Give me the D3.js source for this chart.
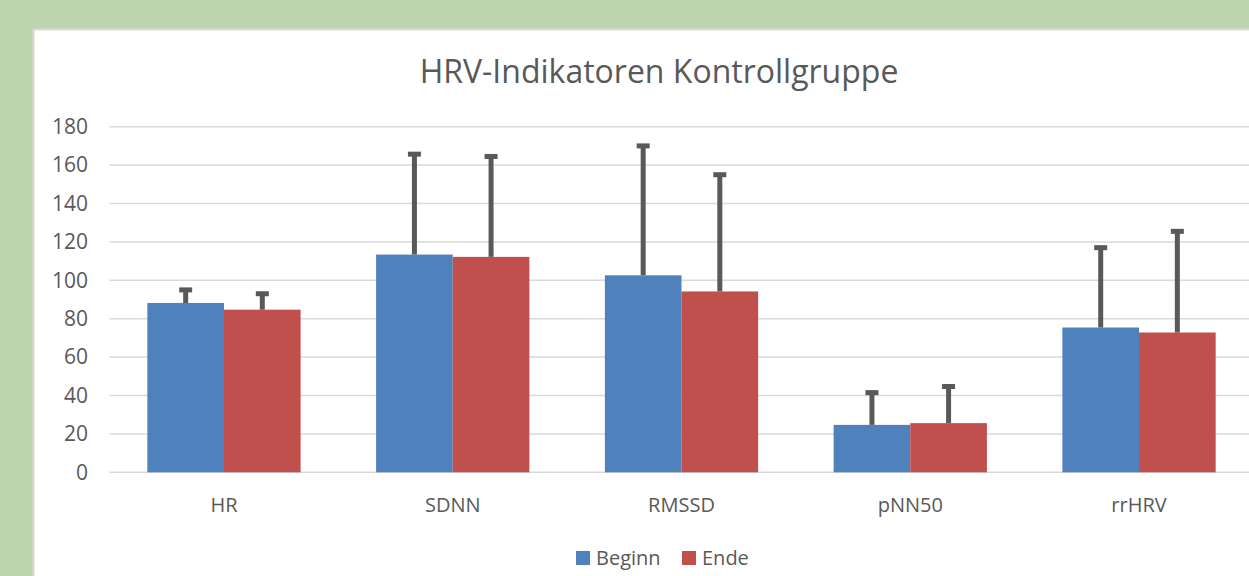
<!DOCTYPE html>
<html lang="de">
<head>
	<meta charset="UTF-8">
	<script src="https://cdnjs.cloudflare.com/ajax/libs/d3/7.8.5/d3.min.js"></script>
	<title>HRV-Indikatoren Kontrollgruppe</title>
	<style>
		body { margin: 0; background: #bcd5ae; overflow: hidden; }
		text { font-family: "Open Sans", sans-serif; fill: #595959; }
		.grid line { stroke: #d9d9d9; stroke-width: 1.5px; }
		.err { stroke: #595959; }
	</style>
</head>
<body>
	<script>
		const width = 1249, height = 576;

		// Daten
		const categories = ["HR", "SDNN", "RMSSD", "pNN50", "rrHRV"];
		const seriesNames = ["Beginn", "Ende"];
		const beginn = [88.2, 113.4, 102.6, 24.7, 75.4];
		const ende = [84.7, 112.2, 94.2, 25.6, 72.8];
		const beginnSD = [6.8, 52.3, 67.4, 16.8, 41.6];
		const endeSD = [8.3, 52.3, 60.8, 19.1, 52.7];
		const yTicks = [0, 20, 40, 60, 80, 100, 120, 140, 160, 180];
		const colors = ["#4f81bd", "#c0504d"];

		const svg = d3.select("body")
			.append("svg")
			.attr("width", width)
			.attr("height", height);

		// weisse Diagrammflaeche
		svg.append("rect")
			.attr("x", 33.5).attr("y", 29.5)
			.attr("width", width).attr("height", height)
			.attr("fill", "#fff")
			.attr("stroke", "#d9d9d9")
			.attr("stroke-width", 2);

		svg.append("text")
			.attr("x", 659).attr("y", 83)
			.attr("text-anchor", "middle")
			.style("font-size", "32px")
			.text("HRV-Indikatoren Kontrollgruppe");

		const x0 = d3.scaleBand()
			.domain(categories)
			.range([109.6, 1253.4])
			.paddingInner(0.33)
			.paddingOuter(0.165);
		const x1 = d3.scaleBand()
			.domain(seriesNames)
			.range([0, x0.bandwidth()]);
		const y = d3.scaleLinear()
			.domain([0, 180])
			.range([472.3, 126.7]);

		// Gitterlinien
		svg.append("g")
			.attr("class", "grid")
			.selectAll("line")
			.data(yTicks)
			.join("line")
			.attr("x1", 109.6).attr("x2", width)
			.attr("y1", d => y(d)).attr("y2", d => y(d));

		// y-Achse Beschriftung
		svg.append("g")
			.selectAll("text")
			.data(yTicks)
			.join("text")
			.attr("x", 88).attr("y", d => y(d))
			.attr("dy", "0.35em")
			.attr("text-anchor", "end")
			.style("font-size", "21px")
			.text(d => d);

		const rows = categories.map((c, i) => ({
			cat: c,
			vals: [
				{ s: "Beginn", v: beginn[i], sd: beginnSD[i], c: colors[0] },
				{ s: "Ende", v: ende[i], sd: endeSD[i], c: colors[1] }
			]
		}));

		const groups = svg.selectAll(".grp")
			.data(rows)
			.join("g")
			.attr("class", "grp")
			.attr("transform", d => "translate(" + x0(d.cat) + ",0)");

		groups.selectAll("rect")
			.data(d => d.vals)
			.join("rect")
			.attr("x", d => x1(d.s))
			.attr("y", d => y(d.v))
			.attr("width", x1.bandwidth())
			.attr("height", d => y(0) - y(d.v))
			.attr("fill", d => d.c);

		// Fehlerbalken
		groups.selectAll(".stem")
			.data(d => d.vals)
			.join("line")
			.attr("class", "err stem")
			.attr("x1", d => x1(d.s) + x1.bandwidth() / 2)
			.attr("x2", d => x1(d.s) + x1.bandwidth() / 2)
			.attr("y1", d => y(d.v))
			.attr("y2", d => y(d.v + d.sd))
			.attr("stroke-width", 5);
		groups.selectAll(".cap")
			.data(d => d.vals)
			.join("line")
			.attr("class", "err cap")
			.attr("x1", d => x1(d.s) + x1.bandwidth() / 2 - 6.5)
			.attr("x2", d => x1(d.s) + x1.bandwidth() / 2 + 6.5)
			.attr("y1", d => y(d.v + d.sd))
			.attr("y2", d => y(d.v + d.sd))
			.attr("stroke-width", 5);

		// x-Achse Beschriftung
		svg.append("g")
			.selectAll("text")
			.data(categories)
			.join("text")
			.attr("x", d => x0(d) + x0.bandwidth() / 2)
			.attr("y", 512)
			.attr("text-anchor", "middle")
			.style("font-size", "20px")
			.text(d => d);

		// Legende
		const legendX = [576, 682];
		const legend = svg.append("g");
		seriesNames.forEach((name, i) => {
			legend.append("rect")
				.attr("x", legendX[i]).attr("y", 551)
				.attr("width", 14).attr("height", 14)
				.attr("fill", colors[i]);
			legend.append("text")
				.attr("x", legendX[i] + 20).attr("y", 565)
				.style("font-size", "20px")
				.text(name);
		});
	</script>
</body>
</html>
